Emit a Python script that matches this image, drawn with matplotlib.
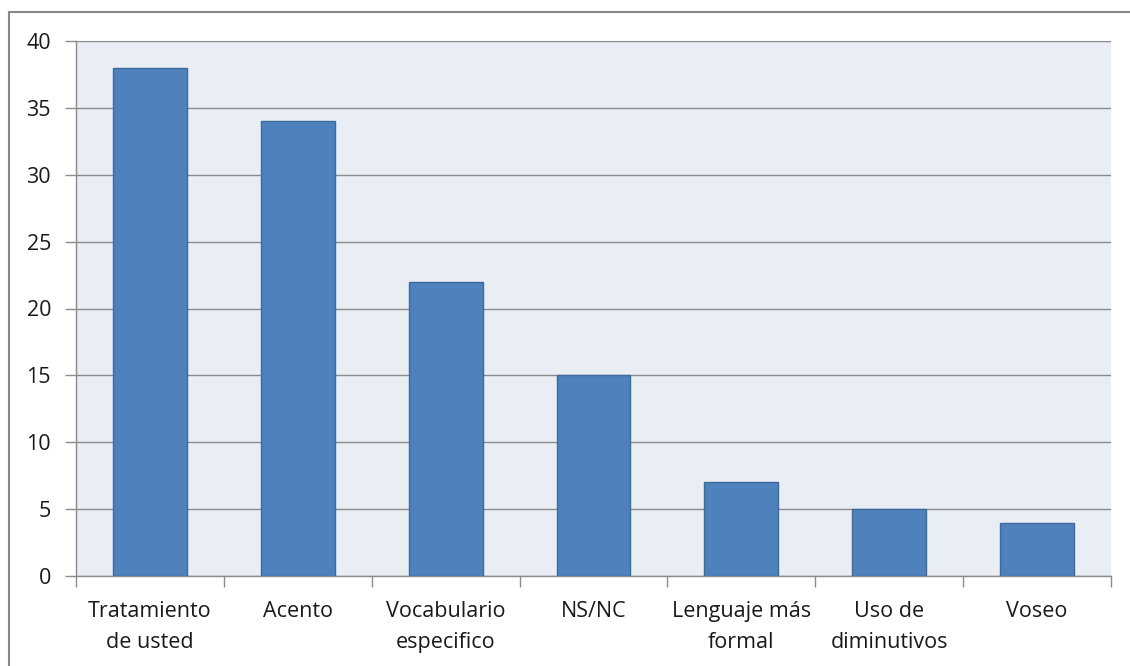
import matplotlib
matplotlib.use('Agg')
import matplotlib.pyplot as plt
from matplotlib.patches import Rectangle
import numpy as np

categorias = ['Tratamiento\nde usted', 'Acento', 'Vocabulario\nespecifico', 'NS/NC',
              'Lenguaje más\nformal', 'Uso de\ndiminutivos', 'Voseo']
valores = [38, 34, 22, 15, 7, 5, 4]
yticks = [0, 5, 10, 15, 20, 25, 30, 35, 40]

plt.rcParams['font.family'] = ['Open Sans', 'DejaVu Sans']

fig = plt.figure(figsize=(11.3, 6.66), dpi=100)
ax = fig.add_axes([76 / 1130, 1 - 576 / 666, (1111 - 76) / 1130, (576 - 41) / 666])

# marco gris de la figura
fig.patches.append(Rectangle((9 / 1130, -0.1), 1.2, 1 - 12 / 666 + 0.1, transform=fig.transFigure,
                             fill=False, edgecolor='#888888', linewidth=1.5))

ax.set_facecolor('#E9EDF4')
x = np.arange(len(categorias))
ax.bar(x, valores, width=0.5, color='#4F81BD', edgecolor='#3B6A9E', linewidth=1, zorder=3)

ax.set_xlim(-0.5, len(categorias) - 0.5)
ax.set_ylim(0, 40)
ax.set_yticks(yticks)
ax.yaxis.grid(True, color='#8C8C8C', linewidth=1, zorder=0)
ax.set_axisbelow(True)

ax.set_xticks(x)
ax.set_xticklabels(categorias, fontsize=15.5, color='#1A1A1A', linespacing=1.6)
ax.set_xticks(np.arange(len(categorias) + 1) - 0.5, minor=True)
ax.tick_params(axis='x', which='major', length=0, pad=18)
ax.tick_params(axis='x', which='minor', length=8, color='#8C8C8C', width=1)
ax.tick_params(axis='y', length=8, color='#8C8C8C', width=1, labelsize=15.5, labelcolor='#1A1A1A', pad=10)

for s in ['top', 'right']:
    ax.spines[s].set_visible(False)
for s in ['left', 'bottom']:
    ax.spines[s].set_color('#8C8C8C')
    ax.spines[s].set_linewidth(1)

fig.savefig('out.png', dpi=100, facecolor='white')
